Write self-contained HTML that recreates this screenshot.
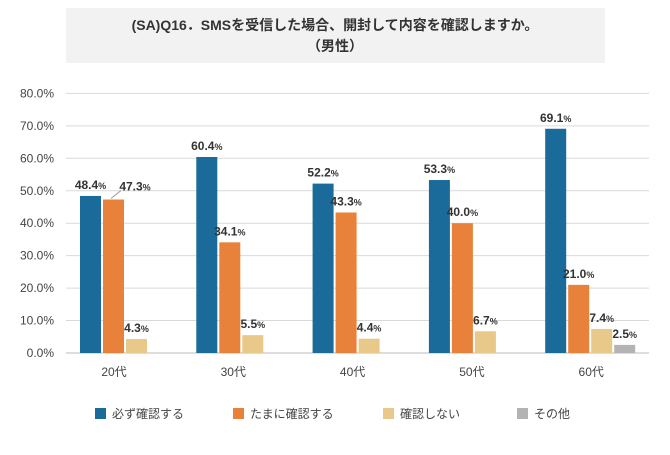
<!DOCTYPE html>
<html><head><meta charset="utf-8"><style>
body{margin:0;background:#fff;font-family:"Liberation Sans","Noto Sans CJK JP",sans-serif}
</style></head><body>
<svg width="670" height="450" viewBox="0 0 670 450" style="font-family:'Liberation Sans','Noto Sans CJK JP',sans-serif">
<rect x="66" y="8" width="539" height="55" fill="#f2f2f2"/>
<text x="335" y="30" text-anchor="middle" font-size="14" font-weight="bold" fill="#333">(SA)Q16．SMSを受信した場合、開封して内容を確認しますか。</text>
<text x="335" y="51" text-anchor="middle" font-size="14" font-weight="bold" fill="#333">（男性）</text>
<g id="grid"></g><g id="bars"></g><g id="legend"></g>
</svg>
<script>
const categories=["20代","30代","40代","50代","60代"];
const seriesNames=["必ず確認する","たまに確認する","確認しない","その他"];
const s1=[48.4,60.4,52.2,53.3,69.1];
const s2=[47.3,34.1,43.3,40.0,21.0];
const s3=[4.3,5.5,4.4,6.7,7.4];
const s4=[0,0,0,0,2.5];
const ticks=[0,10,20,30,40,50,60,70,80];
const colors=["#1a6a9a","#e8813a","#e8c98a","#b3b3b3"];
const NS="http://www.w3.org/2000/svg";
const y0=353,pxPer=3.245,left=66,right=649,slot=116.3;
const y=v=>y0-v*pxPer;
function mk(t,a,p){const e=document.createElementNS(NS,t);for(const k in a)e.setAttribute(k,a[k]);p.appendChild(e);return e;}
const grid=document.getElementById('grid'),bars=document.getElementById('bars'),leg=document.getElementById('legend');
ticks.forEach(t=>{
 const l=mk('line',{x1:left,x2:right,y1:y(t),y2:y(t),stroke:t===0?'#bbb':'#d9d9d9','stroke-width':1},grid);
 
 
 const tx=mk('text',{x:54,y:y(t)+4,'text-anchor':'end','font-size':12,fill:'#444'},grid);
 tx.textContent=t.toFixed(1)+'%';
 
 
});
const series=[s1,s2,s3,s4];
categories.forEach((c,i)=>{
 const gx=80+slot*i;
 series.forEach((s,j)=>{
  const v=s[i]; if(!v) return;
  const bx=gx+j*23;
  const r=mk('rect',{x:bx,y:y(v),width:21,height:y0-y(v),fill:colors[j]},bars);
  
  
  let lx=bx+10.5,ly=y(v)-7;
  if(i===0&&j===1){lx=bx+32;ly=y(v)-9;
   const ln=mk('line',{x1:bx+8,y1:y(v)-1,x2:bx+18,y2:y(v)-9,stroke:'#999'},bars);
   
   }
  const t=mk('text',{x:lx,y:ly,'text-anchor':'middle','font-size':12,'font-weight':'bold',fill:'#333'},bars);
  t.innerHTML=v.toFixed(1)+'<tspan font-size="9">%</tspan>';
  
  
 });
 const ct=mk('text',{x:gx+34+i*3,y:376,'text-anchor':'middle','font-size':12,fill:'#444'},bars);
 ct.textContent=c;
 
 
});
const lxs=[95,233,383,517];
seriesNames.forEach((n,j)=>{
 const r=mk('rect',{x:lxs[j],y:408,width:11,height:11,fill:colors[j]},leg);
 
 
 const t=mk('text',{x:lxs[j]+17,y:418,'font-size':12,fill:'#444'},leg);
 t.textContent=n;
 
 
});
</script>
</body></html>
